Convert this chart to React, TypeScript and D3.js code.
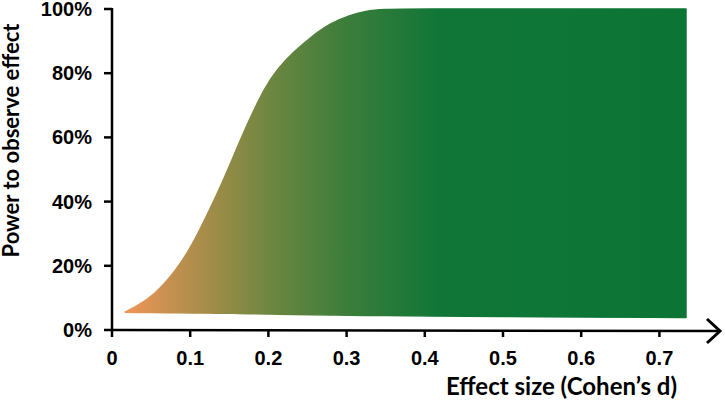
import * as d3 from 'd3'

const width = 725,
      height = 402,
      x0 = 112, x7 = 659.4,
      yBottom = 330, yTop = 9

// effect sizes (Cohen's d) where the curve was read
const effect = [0.017, 0.03, 0.053, 0.083, 0.104, 0.117, 0.138, 0.157, 0.174, 0.196, 0.211, 0.232, 0.255, 0.279, 0.304, 0.325, 0.343, 0.4, 0.5, 0.6, 0.7, 0.734]
// power to observe the effect (upper edge)
const power = [0.056, 0.072, 0.106, 0.187, 0.272, 0.335, 0.442, 0.55, 0.648, 0.758, 0.812, 0.866, 0.914, 0.955, 0.981, 0.993, 0.999, 1, 1, 1, 1, 1]
// lower edge of the band
const floor = [0.055, 0.055, 0.054, 0.054, 0.053, 0.053, 0.052, 0.052, 0.051, 0.05, 0.049, 0.048, 0.047, 0.047, 0.046, 0.045, 0.045, 0.044, 0.042, 0.041, 0.039, 0.039]

const xTicks = [0, 0.1, 0.2, 0.3, 0.4, 0.5, 0.6, 0.7]
const yTicks = [0, 0.2, 0.4, 0.6, 0.8, 1]

// gradient colour by effect size
const gradStops = [
  { d: 0.017, c: '#F09658' },
  { d: 0.1, c: '#B38E4B' },
  { d: 0.2, c: '#6E8740' },
  { d: 0.3, c: '#3C7D3B' },
  { d: 0.42, c: '#0F7637' },
  { d: 0.734, c: '#0C7535' },
]

const x = d3.scaleLinear().domain([0, 0.7]).range([x0, x7])
const y = d3.scaleLinear().domain([0, 1]).range([yBottom, yTop])

const area = d3.area<number>()
  .x((d) => x(d))
  .y0((d, i) => y(floor[i]))
  .y1((d, i) => y(power[i]))
  .curve(d3.curveBasis)

const tickFont = "'Liberation Sans', Arial, sans-serif"
const titleFont = "Lato, 'Open Sans', sans-serif"

export default function App() {
  const gx1 = x(gradStops[0].d), gx2 = x(gradStops[gradStops.length - 1].d)
  return (
    <svg width={width} height={height} style={{ position: 'absolute', left: 0, top: 0, background: '#fff' }}>
      <defs>
        <linearGradient id='band' gradientUnits='userSpaceOnUse' x1={gx1} x2={gx2} y1='0' y2='0'>
          {gradStops.map((s, i) =>
            <stop key={i} offset={(x(s.d) - gx1) / (gx2 - gx1)} stopColor={s.c} />
          )}
        </linearGradient>
      </defs>

      <path d={area(effect) ?? ''} fill='url(#band)' stroke='url(#band)' strokeWidth='1.5' strokeLinejoin='round' />

      {/* y axis */}
      <line x1={x0} y1={yTop - 1} x2={x0} y2={yBottom} stroke='black' strokeWidth='2.5' />
      {yTicks.map((t) =>
        <g key={t}>
          <line x1={x0 - 8} y1={y(t)} x2={x0} y2={y(t)} stroke='black' strokeWidth='2.5' />
          <text x={x0 - 20} y={y(t) + 7} textAnchor='end' fontFamily={tickFont} fontWeight='bold' fontSize='20'>
            {d3.format('.0%')(t)}
          </text>
        </g>
      )}

      {/* x axis with arrow */}
      <line x1={x0 - 1} y1={yBottom} x2={720} y2={yBottom + 1} stroke='black' strokeWidth='2.5' />
      <polyline points={`707,319 720,331 707,343`} fill='none' stroke='black' strokeWidth='3' />
      {xTicks.map((t) =>
        <g key={t}>
          <line x1={x(t)} y1={yBottom} x2={x(t)} y2={yBottom + 7} stroke='black' strokeWidth='2.5' />
          <text x={x(t)} y={yBottom + 35} textAnchor='middle' fontFamily={tickFont} fontWeight='bold' fontSize='20'>
            {t === 0 ? '0' : d3.format('.1f')(t)}
          </text>
        </g>
      )}

      <text x={677} y={395} textAnchor='end' fontFamily={titleFont} fontWeight='bold' fontSize='24'>
        Effect size (Cohen’s d)
      </text>
      <text transform={`translate(19, 140.5) rotate(-90)`} textAnchor='middle' fontFamily={titleFont} fontWeight='bold' fontSize='22'>
        Power to observe effect
      </text>
    </svg>
  )
}
